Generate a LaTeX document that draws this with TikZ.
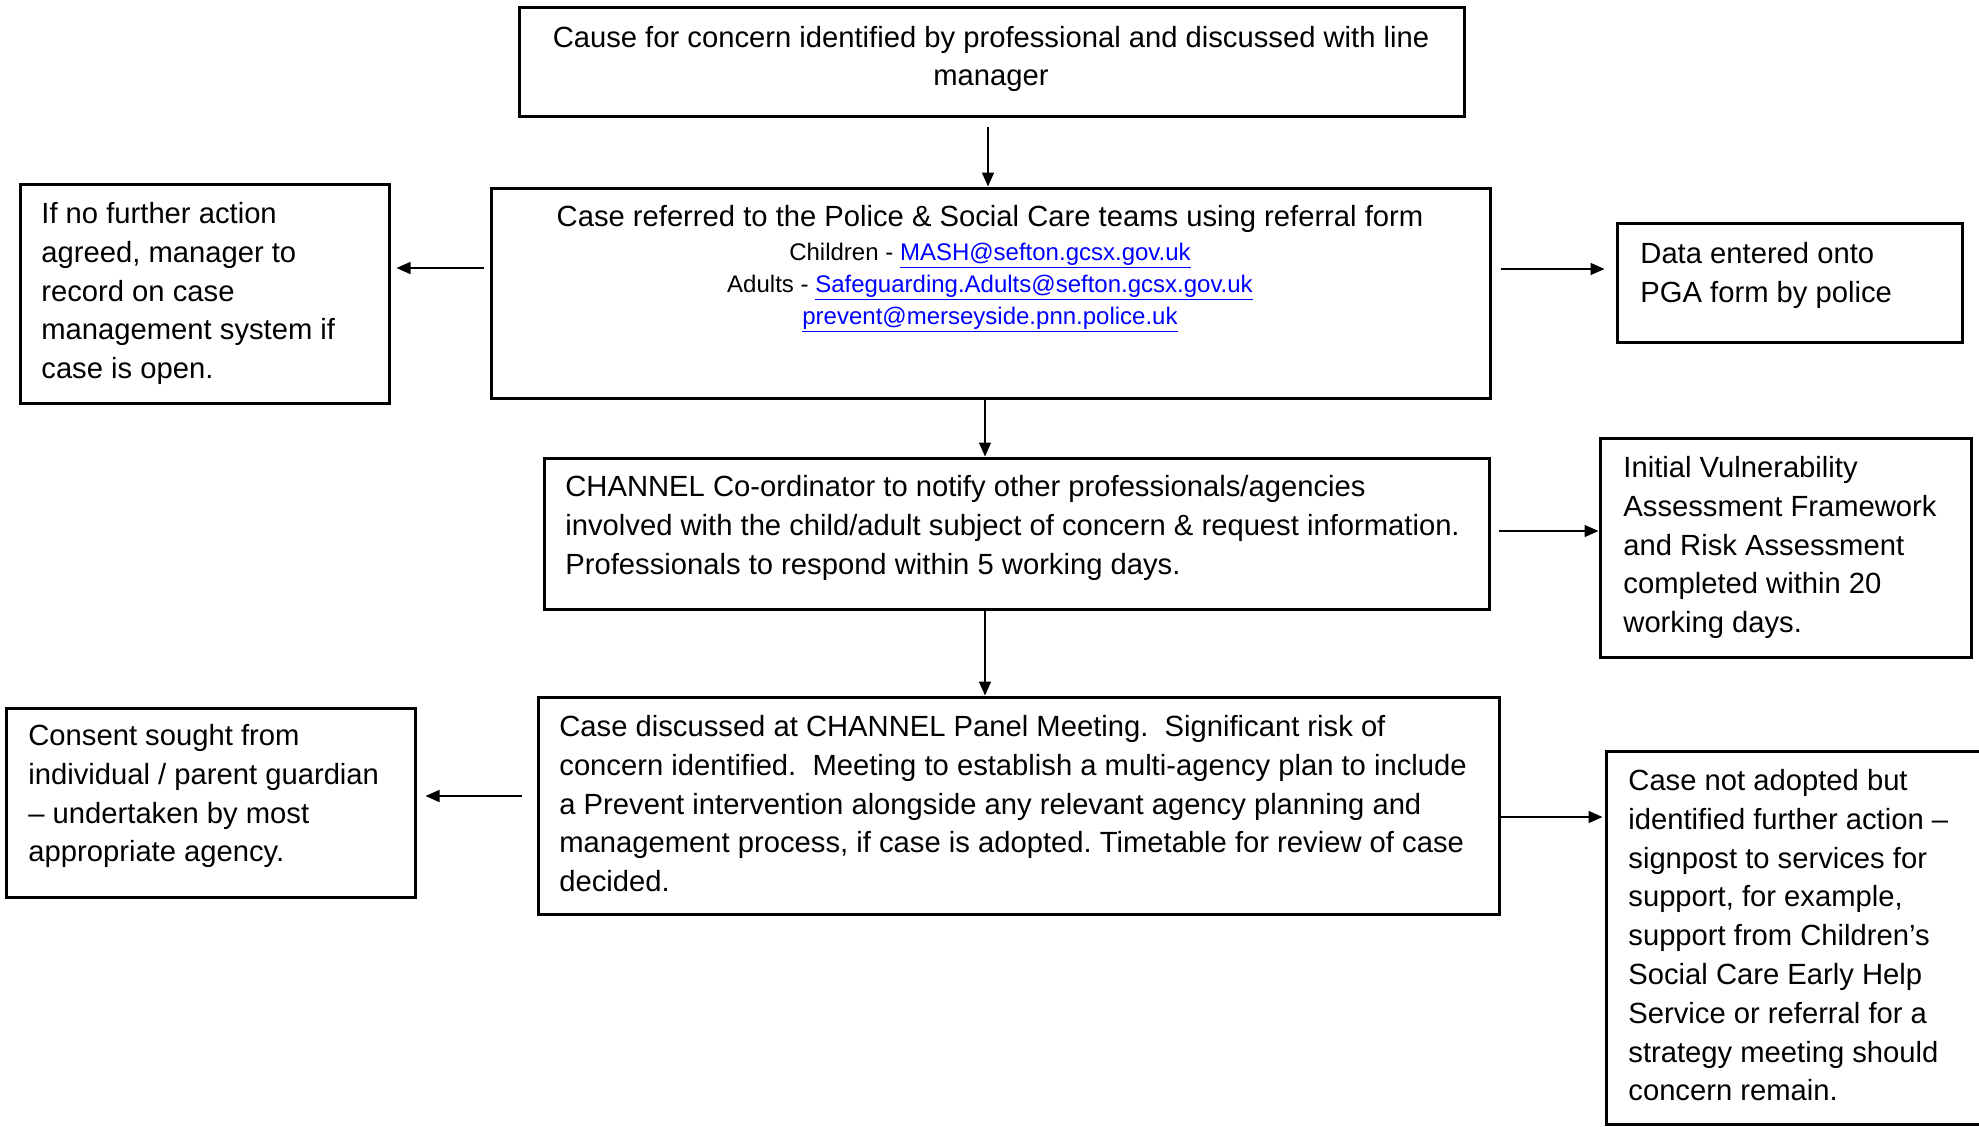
\documentclass[tikz,border=0pt]{standalone}
\usepackage{fontspec}
\setmainfont{Liberation Sans}
\usetikzlibrary{arrows.meta,fit}
\definecolor{linkblue}{HTML}{0000FF}
\newcommand{\mylink}[1]{\textcolor{linkblue}{\underline{#1}}}
\begin{document}
\frenchspacing
\begin{tikzpicture}[x=0.5pt,y=-0.5pt,
  box/.style={draw, line width=1.5pt, inner sep=0pt},
  mtxt/.style={anchor=north west, inner sep=0pt, align=left, font=\fontsize{14.6}{19.4}\selectfont},
  ctxt/.style={anchor=base, inner sep=0pt, font=\fontsize{14.6}{19.4}\selectfont},
  stxt/.style={anchor=base, inner sep=0pt, font=\fontsize{12}{16}\selectfont},
  arr/.style={line width=0.75pt, -{Triangle[length=7pt,width=6pt]}}]
\useasboundingbox (0,0) rectangle (1979,1126);
% boxes
\node[box, fit={(519,7) (1464,116)}] (A) {};
\node[box, fit={(491,188) (1490,398)}] (B) {};
\node[box, fit={(20,184) (389,403)}] (C) {};
\node[box, fit={(1617,223) (1962,342)}] (D) {};
\node[box, fit={(544,458) (1489,609)}] (E) {};
\node[box, fit={(1600,438) (1971,657)}] (F) {};
\node[box, fit={(538,697) (1499,914)}] (G) {};
\node[box, fit={(6,708) (415,897)}] (H) {};
\node[box, fit={(1606,751) (1995,1124)}] (I) {};
% texts
\node[ctxt] (ta1) at (991,47) {Cause for concern identified by professional and discussed with line};
\node[ctxt] (ta2) at (991,85) {manager};
\node[ctxt] (tb1) at (990,226) {Case referred to the Police \& Social Care teams using referral form};
\node[stxt] (tb2) at (990,260) {Children - \mylink{MASH@sefton.gcsx.gov.uk}};
\node[stxt] (tb3) at (990,292) {Adults - \mylink{Safeguarding.Adults@sefton.gcsx.gov.uk}};
\node[stxt] (tb4) at (990,324) {\mylink{prevent@merseyside.pnn.police.uk}};
\node[mtxt] (tc) at (41,196) {\strut If no further action\\agreed, manager to\\record on case\\management system if\\case is open.};
\node[mtxt] (td) at (1640,236) {\strut Data entered onto\\PGA form by police};
\node[mtxt] (te) at (565,469) {\strut CHANNEL Co-ordinator to notify other professionals/agencies\\involved with the child/adult subject of concern \& request information.\\Professionals to respond within 5 working days.};
\node[mtxt] (tf) at (1623,450) {\strut Initial Vulnerability\\Assessment Framework\\and Risk Assessment\\completed within 20\\working days.};
\node[mtxt] (tg) at (559,709) {\strut Case discussed at CHANNEL Panel Meeting.\ \ Significant risk of\\concern identified.\ \ Meeting to establish a multi-agency plan to include\\a Prevent intervention alongside any relevant agency planning and\\management process, if case is adopted. Timetable for review of case\\decided.};
\node[mtxt] (th) at (28,718) {\strut Consent sought from\\individual / parent guardian\\\textendash{} undertaken by most\\appropriate agency.};
\node[mtxt] (ti) at (1628,763) {\strut Case not adopted but\\identified further action \textendash\\signpost to services for\\support, for example,\\support from Children’s\\Social Care Early Help\\Service or referral for a\\strategy meeting should\\concern remain.};
% connector guides
\coordinate (xAB) at (988,0);
\coordinate (xBE) at (985,0);
\coordinate (yBC) at (0,268);
\coordinate (yBD) at (0,269);
\coordinate (yEF) at (0,531);
\coordinate (yGH) at (0,796);
\coordinate (yGI) at (0,817);
% connectors
\draw[arr, shorten <=4.5pt] (A.south -| xAB) -- (B.north -| xAB);
\draw[arr] (B.south -| xBE) -- (E.north -| xBE);
\draw[arr] (E.south -| xBE) -- (G.north -| xBE);
\draw[arr, shorten <=3pt, shorten >=3pt] (B.west |- yBC) -- (C.east |- yBC);
\draw[arr, shorten <=4.5pt, shorten >=5.5pt] (B.east |- yBD) -- (D.west |- yBD);
\draw[arr, shorten <=4pt] (E.east |- yEF) -- (F.west |- yEF);
\draw[arr, shorten <=7.5pt, shorten >=4.5pt] (G.west |- yGH) -- (H.east |- yGH);
\draw[arr, shorten >=1pt] (G.east |- yGI) -- (I.west |- yGI);
\end{tikzpicture}
\end{document}
